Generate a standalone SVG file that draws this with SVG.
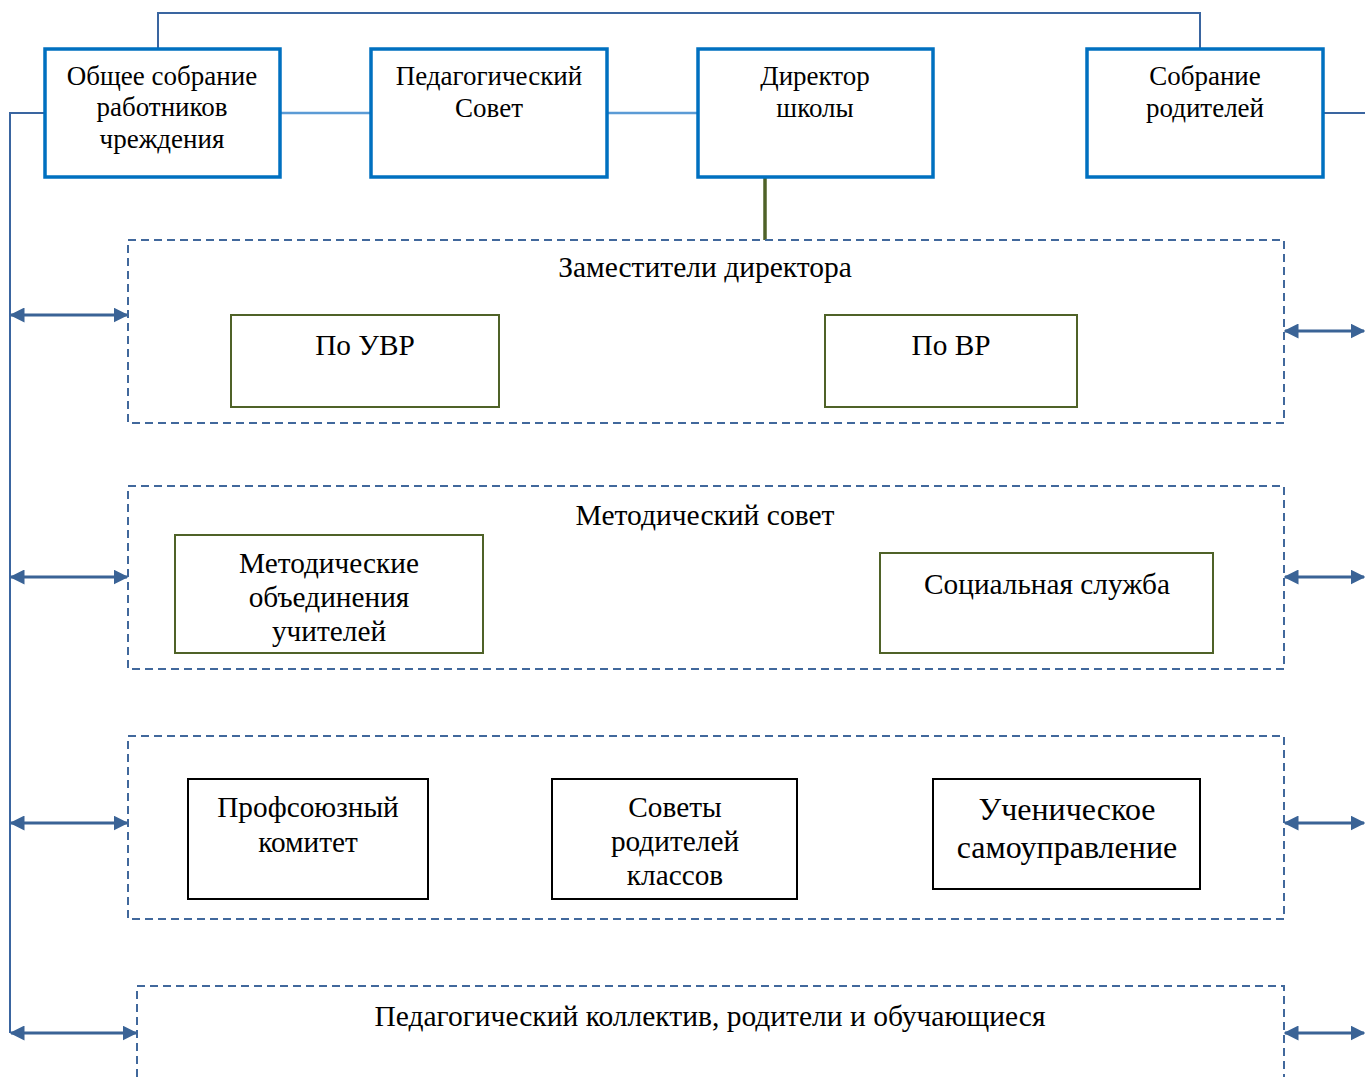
<svg xmlns="http://www.w3.org/2000/svg" width="1365" height="1077" viewBox="0 0 1365 1077">
<defs>
<marker id="ah" viewBox="0 0 10 10" refX="9" refY="5" markerWidth="5" markerHeight="5" orient="auto-start-reverse" markerUnits="strokeWidth">
<path d="M0,0 L10,5 L0,10 z" fill="#3A6396"/>
</marker>
<style>
text{font-family:"Liberation Serif","Times New Roman",serif;fill:#000;text-anchor:middle}
.t{font-size:27px}
.tg{font-size:29.5px}
.tb{font-size:29.3px}
.top{fill:#fff;stroke:#0070C0;stroke-width:3.5}
.grp{fill:none;stroke:#41689C;stroke-width:2;stroke-dasharray:8 5}
.ol{fill:#fff;stroke:#4F6228;stroke-width:2}
.bk{fill:#fff;stroke:#000;stroke-width:2}
.arr{fill:none;stroke:#3A6396;stroke-width:3;marker-start:url(#ah);marker-end:url(#ah)}
.ln{fill:none;stroke:#3A65A0;stroke-width:2}
.lb{fill:none;stroke:#5B9BD5;stroke-width:2.5}
</style>
</defs>
<rect width="1365" height="1077" fill="#fff"/>
<g id="connectors">
<polyline class="ln" points="158,49 158,13 1200,13 1200,49"/>
<polyline class="ln" points="45,113 10,113 10,1033"/>
<line class="lb" x1="280" y1="113" x2="371" y2="113"/>
<line class="lb" x1="607" y1="113" x2="698" y2="113"/>
<line class="ln" x1="1323" y1="113" x2="1365" y2="113"/>
<line x1="765" y1="177" x2="765" y2="240" stroke="#4F6228" stroke-width="3.5"/>
<line class="arr" x1="11" y1="315" x2="127" y2="315"/>
<line class="arr" x1="11" y1="577" x2="127" y2="577"/>
<line class="arr" x1="11" y1="823" x2="127" y2="823"/>
<line class="arr" x1="11" y1="1033" x2="136" y2="1033"/>
<line class="arr" x1="1285" y1="331" x2="1364" y2="331"/>
<line class="arr" x1="1285" y1="577" x2="1364" y2="577"/>
<line class="arr" x1="1285" y1="823" x2="1364" y2="823"/>
<line class="arr" x1="1285" y1="1033" x2="1364" y2="1033"/>
</g>
<g id="n-obshee">
<rect class="top" x="45" y="49" width="235" height="128"/>
<text class="t" x="162" y="85">Общее собрание</text>
<text class="t" x="162" y="116">работников</text>
<text class="t" x="162" y="148">чреждения</text>
</g>
<g id="n-pedsovet">
<rect class="top" x="371" y="49" width="236" height="128"/>
<text class="t" x="489" y="85">Педагогический</text>
<text class="t" x="489" y="117">Совет</text>
</g>
<g id="n-director">
<rect class="top" x="698" y="49" width="235" height="128"/>
<text class="t" x="815" y="85">Директор</text>
<text class="t" x="815" y="117">школы</text>
</g>
<g id="n-roditeli">
<rect class="top" x="1087" y="49" width="236" height="128"/>
<text class="t" x="1205" y="85">Собрание</text>
<text class="t" x="1205" y="117">родителей</text>
</g>
<g id="g-zam">
<rect class="grp" x="128" y="240" width="1156" height="183"/>
<text class="tg" x="705" y="277">Заместители директора</text>
</g>
<g id="n-uvr">
<rect class="ol" x="231" y="315" width="268" height="92"/>
<text class="tb" x="365" y="355">По УВР</text>
</g>
<g id="n-vr">
<rect class="ol" x="825" y="315" width="252" height="92"/>
<text class="tb" x="951" y="355">По ВР</text>
</g>
<g id="g-metod">
<rect class="grp" x="128" y="486" width="1156" height="183"/>
<text class="tg" x="705" y="525">Методический совет</text>
</g>
<g id="n-mo">
<rect class="ol" x="175" y="535" width="308" height="118"/>
<text class="tb" x="329" y="573">Методические</text>
<text class="tb" x="329" y="607">объединения</text>
<text class="tb" x="329" y="641">учителей</text>
</g>
<g id="n-social">
<rect class="ol" x="880" y="553" width="333" height="100"/>
<text class="tb" x="1047" y="594">Социальная служба</text>
</g>
<g id="g-third">
<rect class="grp" x="128" y="736" width="1156" height="183"/>
</g>
<g id="n-prof">
<rect class="bk" x="188" y="779" width="240" height="120"/>
<text class="tb" x="308" y="817">Профсоюзный</text>
<text class="tb" x="308" y="852">комитет</text>
</g>
<g id="n-sovety">
<rect class="bk" x="552" y="779" width="245" height="120"/>
<text class="tb" x="675" y="817">Советы</text>
<text class="tb" x="675" y="851">родителей</text>
<text class="tb" x="675" y="885">классов</text>
</g>
<g id="n-uchen">
<rect class="bk" x="933" y="779" width="267" height="110"/>
<text font-size="32" x="1067" y="820">Ученическое</text>
<text font-size="32" x="1067" y="858">самоуправление</text>
</g>
<g id="g-kollektiv">
<path class="grp" d="M137,1077 L137,986 L1284,986 L1284,1077"/>
<text class="tg" x="710" y="1026">Педагогический коллектив, родители и обучающиеся</text>
</g>
</svg>
